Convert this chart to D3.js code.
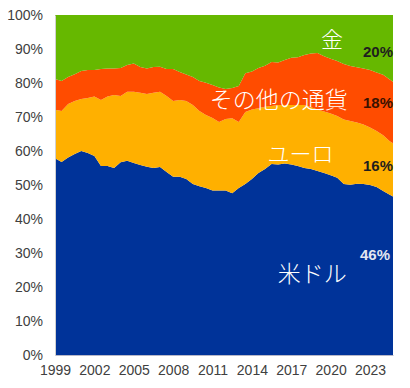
<!DOCTYPE html>
<html lang="ja">
<head>
<meta charset="UTF-8">
<title>外貨準備の通貨別構成</title>
<script src="https://cdn.jsdelivr.net/npm/d3@7/dist/d3.min.js"></script>
<style>
  body { margin: 0; background: #fff; }
  svg { display: block; }
  .tick-label { font-family: "Liberation Sans", Arial, sans-serif; font-size: 14px; fill: #404040; }
  .name { font-family: "Noto Sans CJK JP", sans-serif; font-weight: 300; fill: #fff; }
  .share { font-family: "Liberation Sans", Arial, sans-serif; font-size: 15px; font-weight: bold; }
</style>
</head>
<body>
<svg id="chart"></svg>
<script>
// half-yearly observations, last point is 2024 Q3
const periods = [1999, 1999.5, 2000, 2000.5, 2001, 2001.5, 2002, 2002.5, 2003, 2003.5,
  2004, 2004.5, 2005, 2005.5, 2006, 2006.5, 2007, 2007.5, 2008, 2008.5,
  2009, 2009.5, 2010, 2010.5, 2011, 2011.5, 2012, 2012.5, 2013, 2013.5,
  2014, 2014.5, 2015, 2015.5, 2016, 2016.5, 2017, 2017.5, 2018, 2018.5,
  2019, 2019.5, 2020, 2020.5, 2021, 2021.5, 2022, 2022.5, 2023, 2023.5,
  2024, 2024.5, 2024.75]

// shares in %
const usd = [57.9, 56.8, 58.1, 59.1, 60.0, 59.4, 58.5, 55.6, 55.6, 55.0,
  56.7, 57.1, 56.5, 55.9, 55.4, 55.0, 55.3, 53.8, 52.4, 52.4,
  51.8, 50.3, 49.6, 49.1, 48.4, 48.4, 48.4, 47.6, 49.1, 50.3,
  51.8, 53.5, 54.7, 56.2, 56.0, 56.3, 56.0, 55.6, 55.0, 54.7,
  54.1, 53.5, 52.9, 52.1, 50.3, 50.1, 50.4, 50.3, 50.0, 49.4,
  48.2, 47.1, 46.6]
const eur = [14.2, 15.0, 15.7, 15.6, 15.3, 16.2, 17.5, 19.4, 20.4, 21.5,
  19.5, 20.3, 20.9, 21.2, 21.4, 22.1, 22.1, 22.4, 22.3, 22.6,
  22.9, 23.2, 22.2, 21.5, 21.3, 20.1, 21.0, 22.0, 19.4, 21.2,
  20.4, 19.1, 18.3, 17.0, 17.5, 17.2, 17.5, 17.9, 18.5, 18.2,
  18.1, 18.1, 18.1, 18.2, 19.0, 18.7, 18.0, 17.5, 16.9, 16.5,
  16.4, 15.8, 15.7]
const other = [9.1, 8.8, 8.0, 7.9, 8.2, 8.2, 7.8, 9.1, 8.3, 7.8,
  8.2, 7.9, 8.3, 7.6, 7.5, 7.6, 7.4, 7.9, 9.4, 8.2,
  7.8, 8.3, 8.8, 9.5, 9.7, 10.2, 8.8, 8.9, 10.6, 11.4,
  11.2, 11.8, 12.1, 13.0, 12.5, 13.3, 13.9, 14.1, 14.7, 15.8,
  16.6, 16.3, 16.1, 16.2, 16.3, 16.2, 16.2, 16.5, 16.9, 17.2,
  17.8, 18.1, 18.1]
const gold = [18.8, 19.4, 18.2, 17.4, 16.5, 16.2, 16.2, 15.9, 15.7, 15.7,
  15.6, 14.7, 14.3, 15.3, 15.7, 15.3, 15.2, 15.9, 15.9, 16.8,
  17.5, 18.2, 19.4, 19.9, 20.6, 21.3, 21.8, 21.5, 20.9, 17.1,
  16.6, 15.6, 14.9, 13.8, 14.0, 13.2, 12.6, 12.4, 11.8, 11.3,
  11.2, 12.1, 12.9, 13.5, 14.4, 15.0, 15.4, 15.7, 16.2, 16.9,
  17.6, 19.0, 19.6]

const seriesKeys = ["usd", "eur", "other", "gold"]
const seriesNames = ["米ドル", "ユーロ", "その他の通貨", "金"]
const seriesColors = ["#003399", "#ffb000", "#ff4c00", "#66b800"]
const latestLabels = ["46%", "16%", "18%", "20%"]
const yearTicks = [1999, 2002, 2005, 2008, 2011, 2014, 2017, 2020, 2023]
const pctTicks = [0, 10, 20, 30, 40, 50, 60, 70, 80, 90, 100]

const width = 410
const height = 388
const margin = { top: 15, right: 17, bottom: 33, left: 55 }

const svg = d3.select("#chart").attr("width", width).attr("height", height)

const rows = periods.map((p, i) => ({ period: p, usd: usd[i], eur: eur[i], other: other[i], gold: gold[i] }))
const stacked = d3.stack().keys(seriesKeys)(rows)

const x = d3.scaleLinear()
  .domain([periods[0], periods[periods.length - 1]])
  .range([margin.left, width - margin.right])
const y = d3.scaleLinear()
  .domain([0, 100])
  .range([height - margin.bottom, margin.top])

const area = d3.area()
  .x(d => x(d.data.period))
  .y0(d => y(d[0]))
  .y1(d => y(d[1]))

svg.append("g")
  .selectAll("path")
  .data(stacked)
  .join("path")
    .attr("d", area)
    .attr("fill", (d, i) => seriesColors[i])

// axes: plain lines, labels only
const yAxis = svg.append("g")
  .attr("transform", `translate(${margin.left},0)`)
  .call(d3.axisLeft(y).tickValues(pctTicks).tickFormat(d => d + "%").tickSize(0).tickPadding(12))
yAxis.select(".domain").attr("stroke", "#d0d0d0")
yAxis.selectAll("text").attr("class", "tick-label").attr("font-size", null).attr("font-family", null)

const xAxis = svg.append("g")
  .attr("transform", `translate(0,${height - margin.bottom})`)
  .call(d3.axisBottom(x).tickValues(yearTicks).tickFormat(d3.format("d")).tickSize(0).tickPadding(10))
xAxis.select(".domain").attr("stroke", "#b8b8c8")
xAxis.selectAll("text").attr("class", "tick-label").attr("font-size", null).attr("font-family", null)

// series names inside the areas
const namePos = [
  { px: 2018.6, py: 24.5, size: 23 },
  { px: 2017.7, py: 59.6, size: 22 },
  { px: 2016.05, py: 75.5, size: 23 },
  { px: 2020.1, py: 93.4, size: 22 }
]
svg.append("g")
  .selectAll("text")
  .data(seriesNames)
  .join("text")
    .attr("class", "name")
    .attr("x", (d, i) => x(namePos[i].px))
    .attr("y", (d, i) => y(namePos[i].py))
    .attr("text-anchor", "middle")
    .attr("dominant-baseline", "central")
    .attr("font-size", (d, i) => namePos[i].size)
    .text(d => d)

// latest shares at right edge
const last = periods[periods.length - 1]
const sharePos = [29.7, 55.6, 74.3, 89.4]
svg.append("g")
  .selectAll("text")
  .data(latestLabels)
  .join("text")
    .attr("class", "share")
    .attr("x", (d, i) => x(last) - (i === 0 ? 3 : 0))
    .attr("y", (d, i) => y(sharePos[i]))
    .attr("text-anchor", "end")
    .attr("dominant-baseline", "central")
    .attr("fill", (d, i) => i === 0 ? "#e4e6f0" : i === 2 ? "#3a1200" : "#1e1e1e")
    .text(d => d)
</script>
</body>
</html>
